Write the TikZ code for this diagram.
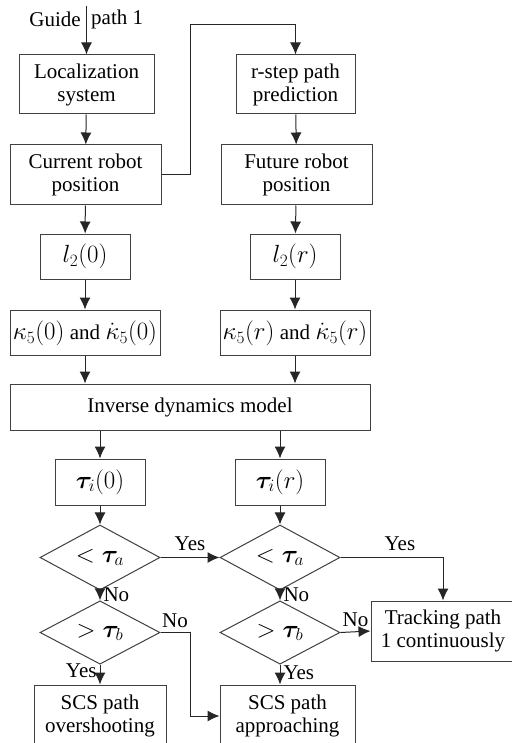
\documentclass[tikz,border=0pt]{standalone}
\usepackage{amsmath}
\usepackage{bm}
\usepackage{fontspec}
\setmainfont{Liberation Serif}
\usetikzlibrary{arrows.meta,shapes.geometric}
\begin{document}
\begin{tikzpicture}[x=1pt,y=-1pt,
  every node/.style={font=\fontsize{21}{23}\selectfont},
  mfont/.style={font=\fontsize{25}{27}\selectfont},
  kfont/.style={font=\fontsize{23}{25}\selectfont, inner sep=0pt},
  box/.style={draw=black!75, line width=1pt, rectangle, inner sep=0pt, align=center},
  dia/.style={draw=black!75, line width=1pt, diamond, inner sep=0pt, minimum width=120pt, minimum height=45pt, font=\fontsize{25}{27}\selectfont},
  conn/.style={draw=black!85, line width=1pt, -{Latex[length=12pt,width=11pt]}},
  lbl/.style={inner sep=0pt}]
\useasboundingbox (0,0) rectangle (511,743);
\fill[white] (0,0) rectangle (511,743);
% nodes
\node[box, minimum width=135pt, minimum height=59pt] (loc) at (86.5,84.5) {Localization\\system};
\node[box, minimum width=151pt, minimum height=60pt] (cur) at (85.5,175) {Current robot\\position};
\node[box, minimum width=119pt, minimum height=59pt] (rstep) at (295.5,84.5) {r-step path\\prediction};
\node[box, minimum width=151pt, minimum height=60pt] (fut) at (296.5,175) {Future robot\\position};
\node[box, mfont, minimum width=90pt, minimum height=45pt] (l20) at (85,256.5) {$l_2(0)$};
\node[box, mfont, minimum width=90pt, minimum height=45pt] (l2r) at (295,256.5) {$l_2(r)$};
\node[box, minimum width=150pt, minimum height=45pt] (k0) at (85,332.5) {};
\node[box, minimum width=150pt, minimum height=45pt] (kr) at (295,332.5) {};
\node[lbl, anchor=base] (k0and) at ([yshift=-7pt]k0.center) {and};
\node[kfont, anchor=base east] (k0a) at ([xshift=-5pt]k0and.base west) {$\kappa_5(0)$};
\node[kfont, anchor=base west] (k0b) at ([xshift=5pt]k0and.base east) {$\dot\kappa_5(0)$};
\node[lbl, anchor=base] (krand) at ([yshift=-7pt]kr.center) {and};
\node[kfont, anchor=base east] (kra) at ([xshift=-5pt]krand.base west) {$\kappa_5(r)$};
\node[kfont, anchor=base west] (krb) at ([xshift=5pt]krand.base east) {$\dot\kappa_5(r)$};
\node[box, minimum width=360pt, minimum height=46pt] (inv) at (190,407) {Inverse dynamics model};
\node[box, mfont, minimum width=90pt, minimum height=46pt] (t0) at (100,482) {$\bm{\tau}_i(0)$};
\node[box, mfont, minimum width=90pt, minimum height=46pt] (tr) at (280,482) {$\bm{\tau}_i(r)$};
\node[dia] (d1) at (100,557.5) {$<\bm{\tau}_a$};
\node[dia] (d2) at (280,557.5) {$<\bm{\tau}_a$};
\node[dia] (d3) at (100,632.5) {$>\bm{\tau}_b$};
\node[dia] (d4) at (280,632.5) {$>\bm{\tau}_b$};
\node[box, minimum width=144pt, minimum height=60pt] (track) at (443,631) {Tracking path\\1 continuously};
\node[box, minimum width=132pt, minimum height=62pt] (scs1) at (100,716) {SCS path\\overshooting};
\node[box, minimum width=135pt, minimum height=62pt] (scs2) at (287.5,716) {SCS path\\approaching};
% guide
\coordinate (gd) at (86.5,6);
\node[lbl, anchor=east] (gtxt) at (81,19) {Guide};
\node[lbl, anchor=west] (ptxt) at (91,19) {path 1};
\draw[conn] (gd) -- (loc);
% connectors
\draw[conn] (loc) -- (cur);
\coordinate (fb) at (190,25);
\draw[conn] (cur.east) -| (fb) -| (rstep.north);
\draw[conn] (rstep) -- (fut);
\draw[conn] (cur) -- (l20);
\draw[conn] (fut) -- (l2r);
\draw[conn] (l20) -- (k0);
\draw[conn] (l2r) -- (kr);
\draw[conn] (k0) -- (k0 |- inv.north);
\draw[conn] (kr) -- (kr |- inv.north);
\draw[conn] (t0 |- inv.south) -- (t0);
\draw[conn] (tr |- inv.south) -- (tr);
\draw[conn] (t0) -- (d1);
\draw[conn] (tr) -- (d2);
\draw[conn] (d1.east) -- node[lbl, above=6pt] (y1) {Yes} (d2.west);
\draw[conn] (d2.east) -| node[lbl, pos=0.29, above=6pt] (y2) {Yes} (track.north);
\draw[conn] (d1.south) -- node[lbl, pos=0.4, right=3pt] (n1) {No} (d3.north);
\draw[conn] (d2.south) -- node[lbl, pos=0.45, right=3pt] (n2) {No} (d4.north);
\draw[conn] (d4.east) -- node[lbl, above=5pt] (n4) {No} (track.west);
\coordinate (nb) at (190,632.5);
\draw[conn] (d3.east) -- (nb) |- (scs2.west);
\node[lbl] (n3) at (175,621) {No};
\draw[conn] (d3.south) -- node[lbl, pos=0.3, left=3pt] (y3) {Yes} (scs1.north);
\draw[conn] (d4.south) -- node[lbl, pos=0.4, right=3pt] (y4) {Yes} (d4.south |- scs2.north);
\end{tikzpicture}
\end{document}
